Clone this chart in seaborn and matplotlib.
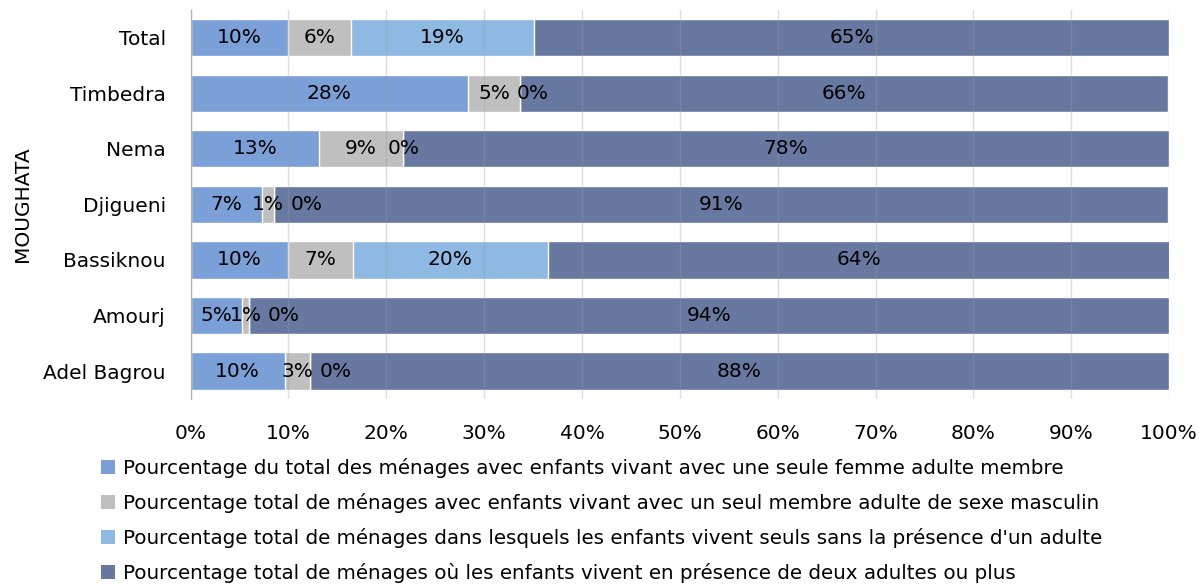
import matplotlib
matplotlib.use("Agg")
import matplotlib.pyplot as plt
import seaborn as sns
import pandas as pd
import numpy as np
from matplotlib.patches import Patch

categories = ["Total", "Timbedra", "Nema", "Djigueni", "Bassiknou", "Amourj", "Adel Bagrou"]
femme_seule = [10.0, 28.3, 13.1, 7.3, 10.0, 5.2, 9.6]
homme_seul = [6.4, 5.4, 8.6, 1.2, 6.6, 0.8, 2.6]
enfants_seuls = [18.7, 0.0, 0.0, 0.0, 19.9, 0.0, 0.0]
deux_adultes = [64.9, 66.2, 78.3, 91.4, 63.6, 94.0, 87.8]

series_names = [
    "Pourcentage du total des ménages avec enfants vivant avec une seule femme adulte membre",
    "Pourcentage total de ménages avec enfants vivant avec un seul membre adulte de sexe masculin",
    "Pourcentage total de ménages dans lesquels les enfants vivent seuls sans la présence d'un adulte",
    "Pourcentage total de ménages où les enfants vivent en présence de deux adultes ou plus",
]
colors = ["#7B9FD7", "#BFBFBF", "#8DB9E2", "#6779A0"]

sns.set_theme(style="white")
plt.rcParams["font.family"] = ["DejaVu Sans"]
plt.rcParams["text.color"] = "black"

df = pd.DataFrame({
    "cat": categories,
    "s1": femme_seule,
    "s2": homme_seul,
    "s3": enfants_seuls,
    "s4": deux_adultes,
})
vals = df[["s1", "s2", "s3", "s4"]].to_numpy()
cum = np.cumsum(vals, axis=1)
for i in range(4):
    df[f"c{i}"] = cum[:, i]

fig = plt.figure(figsize=(11.99, 5.84), dpi=100)
ax = fig.add_axes([0.159, 0.317, 0.816, 0.666])

for i in reversed(range(4)):
    sns.barplot(data=df, x=f"c{i}", y="cat", order=categories, color=colors[i],
                width=0.67, saturation=1, ax=ax, orient="y", errorbar=None, zorder=2)

fs = 14.5
ax.set_xlim(0, 100)
ax.set_xticks(np.arange(0, 101, 10))
ax.set_xticklabels([f"{t}%" for t in range(0, 101, 10)], fontsize=fs)
ax.tick_params(axis="x", length=0, pad=18, labelcolor="black")
ax.tick_params(axis="y", length=0, pad=18, labelsize=fs, labelcolor="black")
ax.set_xlabel("")
ax.set_ylabel("MOUGHATA", fontsize=fs, color="black", labelpad=8)
ax.xaxis.grid(True, color="#A0A0A0", linewidth=1, alpha=0.35, zorder=5)
ax.set_axisbelow(False)
for s in ["top", "right", "bottom"]:
    ax.spines[s].set_visible(False)
ax.spines["left"].set_color("#BFBFBF")
ax.spines["left"].set_linewidth(1)

# data labels
for r in range(len(categories)):
    left = 0.0
    prev_center = None
    for i in range(4):
        v = vals[r, i]
        lab = f"{int(round(v))}%"
        if v > 0:
            c = left + v / 2
            ax.text(c, r, lab, ha="center", va="center", fontsize=fs, color="black", zorder=6)
            prev_center = c
        else:
            x0 = max(left - 1.6, prev_center + 2.3)
            ax.text(x0, r, lab, ha="left", va="center", fontsize=fs, color="black", zorder=6)
        left += v

handles = [Patch(facecolor=colors[i], edgecolor="none") for i in range(4)]
leg = fig.legend(handles, series_names, loc="upper left", bbox_to_anchor=(0.084, 0.216),
                 frameon=False, fontsize=14.3, handlelength=0.7, handleheight=0.7,
                 handletextpad=0.4, labelspacing=0.755, borderaxespad=0, borderpad=0)
for t in leg.get_texts():
    t.set_color("black")

fig.savefig("out.png", dpi=100)
